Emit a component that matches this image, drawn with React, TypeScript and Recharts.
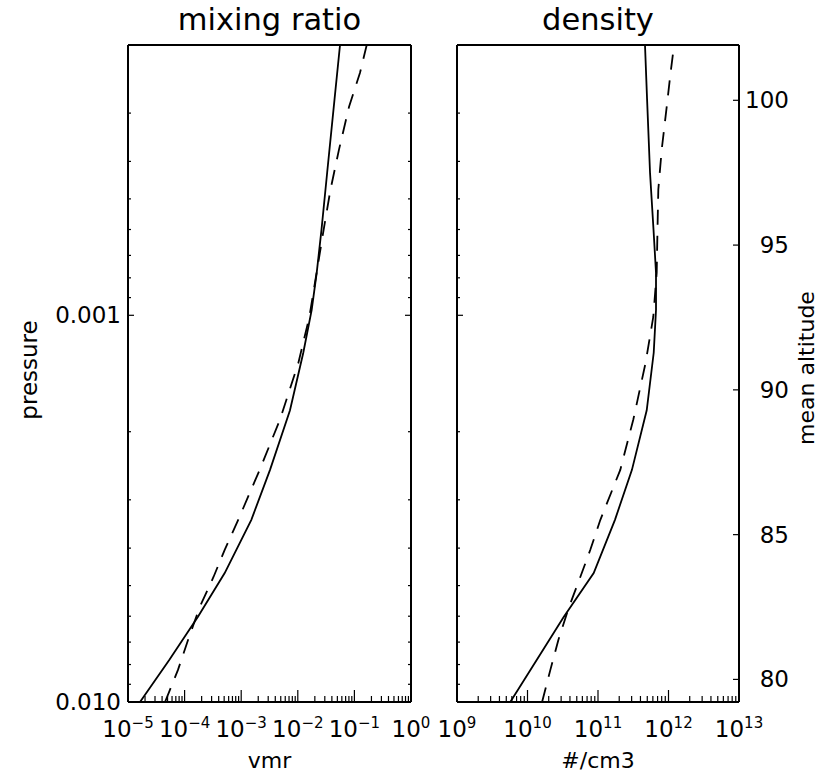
import { ScatterChart, Scatter, XAxis, YAxis } from 'recharts'

const FONT = '"DejaVu Sans", sans-serif'

// pressure levels of the two profiles (bottom to top)
const pressureSolid = [0.01, 0.00779, 0.00603, 0.00464, 0.00338, 0.00251, 0.00176, 0.00125, 0.000968, 0.000776, 0.000601, 0.000428, 0.000277, 0.0002]
const pressureDashed = [0.01, 0.00826, 0.00691, 0.00568, 0.00475, 0.00404, 0.00338, 0.00251, 0.00186, 0.00133, 0.00101, 0.000776, 0.000601, 0.000473, 0.000373, 0.000289, 0.000236, 0.0002]

// mixing ratio
const vmrSolid = [1.63e-5, 5.35e-5, 1.71e-4, 5.11e-4, 1.51e-3, 3.23e-3, 7.28e-3, 0.0125, 0.0176, 0.0216, 0.0262, 0.033, 0.0445, 0.0557]
const vmrDashed = [4.51e-5, 7.64e-5, 1.15e-4, 1.85e-4, 3.24e-4, 5.11e-4, 8.85e-4, 2.12e-3, 4.85e-3, 0.0102, 0.016, 0.0215, 0.0286, 0.0378, 0.0534, 0.0804, 0.1256, 0.165]

// number density
const densSolid = [5.7e9, 1.35e10, 3.26e10, 8.69e10, 1.74e11, 3.03e11, 4.91e11, 6.17e11, 6.65e11, 6.65e11, 6.13e11, 5.47e11, 4.97e11, 4.64e11]
const densDashed = [1.61e10, 2.11e10, 2.74e10, 3.88e10, 5.61e10, 7.78e10, 1.08e11, 2.07e11, 3.17e11, 4.72e11, 6.08e11, 6.8e11, 6.98e11, 7.17e11, 8.01e11, 9.43e11, 1.07e12, 1.2e12]

// axes
const vmrMajor = [1e-5, 1e-4, 1e-3, 1e-2, 1e-1, 1]
const densMajor = [1e9, 1e10, 1e11, 1e12, 1e13]
const pressureMajor = [0.001, 0.01]
const pressureDomain = [0.0002, 0.01]
const altitudeTicks = [80, 85, 90, 95, 100]
const altitudeDomain = [79.22, 101.91]

const withMinors = (majors: number[], from: number, to: number) => {
    const out: number[] = []
    majors.forEach((m, i) => {
        out.push(m)
        if (i < majors.length - 1) {
            for (let k = 2; k <= 9; k++) out.push(m * k)
        }
    })
    // minors below the first major (pressure axis starts at 2e-4)
    const first = majors[0] / 10
    for (let k = 2; k <= 9; k++) if (first * k >= from && first * k <= to) out.push(first * k)
    return out.sort((a, b) => a - b)
}

const vmrTicks = withMinors(vmrMajor, 1e-5, 1)
const densTicks = withMinors(densMajor, 1e9, 1e13)
const pressureTicks = withMinors(pressureMajor, 0.0002, 0.01)

const pts = (xs: number[], ps: number[]) => ps.map((p, i) => ({ x: xs[i], p }))

const expLabel = (v: number) => {
    const e = Math.round(Math.log10(v))
    return e < 0 ? `\u2212${-e}` : `${e}`
}

const makeXTick = (majors: number[], side: 'bottom' | 'top', labels: boolean) => (props: any) => {
    const { x, y, payload } = props
    const major = majors.includes(payload.value)
    const len = major ? 12 : 6
    const dir = side === 'bottom' ? -1 : 1
    return (
        <g>
            <line x1={x} y1={y} x2={x} y2={y + dir * len} stroke="#000" strokeWidth={1.2} />
            {labels && major && (
                <text x={x} y={y + 35} textAnchor="middle" fontFamily={FONT} fontSize={23} fill="#000">
                    <tspan>10</tspan>
                    <tspan dy={-9} fontSize={15}>{expLabel(payload.value)}</tspan>
                </text>
            )}
        </g>
    )
}

const makeYTick = (majors: number[], side: 'left' | 'right', labels: boolean, fmt?: (v: number) => string) => (props: any) => {
    const { x, y, payload } = props
    const major = majors.includes(payload.value)
    const len = major ? 6 : 3
    const dir = side === 'left' ? 1 : -1
    return (
        <g>
            <line x1={x} y1={y} x2={x + dir * len} y2={y} stroke="#000" strokeWidth={1.2} />
            {labels && major && (
                <text
                    x={side === 'left' ? x - 7 : x + 50}
                    y={y + 8}
                    textAnchor="end"
                    fontFamily={FONT}
                    fontSize={23}
                    fill="#000"
                >
                    {fmt ? fmt(payload.value) : payload.value}
                </text>
            )}
        </g>
    )
}

const frame = { stroke: '#000', strokeWidth: 2 }
const solidLine = { stroke: '#000', strokeWidth: 1.8 }
const dashedLine = { stroke: '#000', strokeWidth: 1.8, strokeDasharray: '15 11' }
const noDot = () => <g />

// axis size 1 px so the axes are drawn; margins reduced by that pixel
export default function App() {
    return (
        <div style={{ position: 'absolute', left: 0, top: 0, width: 819, height: 777, background: '#fff' }}>
            {/* mixing ratio panel */}
            <div style={{ position: 'absolute', left: 0, top: 0 }}>
                <ScatterChart width={440} height={777} margin={{ top: 44, right: 28, bottom: 74, left: 127 }}>
                    <XAxis xAxisId="b" dataKey="x" type="number" scale="log" domain={[1e-5, 1]} allowDataOverflow
                        ticks={vmrTicks} interval={0} height={1} tickSize={0} tickMargin={0} tickLine={false}
                        axisLine={frame} tick={makeXTick(vmrMajor, 'bottom', true)} />
                    <XAxis xAxisId="t" orientation="top" type="number" scale="log" domain={[1e-5, 1]} allowDataOverflow
                        ticks={vmrTicks} interval={0} height={1} tickSize={0} tickMargin={0} tickLine={false}
                        axisLine={frame} tick={makeXTick(vmrMajor, 'top', false)} />
                    <YAxis yAxisId="l" dataKey="p" type="number" scale="log" domain={pressureDomain} allowDataOverflow reversed
                        ticks={pressureTicks} interval={0} width={1} tickSize={0} tickMargin={0} tickLine={false}
                        axisLine={frame} tick={makeYTick(pressureMajor, 'left', true, (v) => v.toFixed(3))} />
                    <YAxis yAxisId="r" orientation="right" type="number" scale="log" domain={pressureDomain} allowDataOverflow reversed
                        ticks={pressureTicks} interval={0} width={1} tickSize={0} tickMargin={0} tickLine={false}
                        axisLine={frame} tick={makeYTick(pressureMajor, 'right', false)} />
                    <Scatter xAxisId="b" yAxisId="l" data={pts(vmrSolid, pressureSolid)} line={solidLine}
                        shape={noDot} isAnimationActive={false} />
                    <Scatter xAxisId="b" yAxisId="l" data={pts(vmrDashed, pressureDashed)} line={dashedLine}
                        shape={noDot} isAnimationActive={false} />
                </ScatterChart>
            </div>

            {/* density panel */}
            <div style={{ position: 'absolute', left: 420, top: 0 }}>
                <ScatterChart width={399} height={777} margin={{ top: 44, right: 79, bottom: 74, left: 36 }}>
                    <XAxis xAxisId="b" dataKey="x" type="number" scale="log" domain={[1e9, 1e13]} allowDataOverflow
                        ticks={densTicks} interval={0} height={1} tickSize={0} tickMargin={0} tickLine={false}
                        axisLine={frame} tick={makeXTick(densMajor, 'bottom', true)} />
                    <XAxis xAxisId="t" orientation="top" type="number" scale="log" domain={[1e9, 1e13]} allowDataOverflow
                        ticks={densTicks} interval={0} height={1} tickSize={0} tickMargin={0} tickLine={false}
                        axisLine={frame} tick={makeXTick(densMajor, 'top', false)} />
                    <YAxis yAxisId="l" dataKey="p" type="number" scale="log" domain={pressureDomain} allowDataOverflow reversed
                        ticks={pressureTicks} interval={0} width={1} tickSize={0} tickMargin={0} tickLine={false}
                        axisLine={frame} tick={makeYTick(pressureMajor, 'left', false)} />
                    <YAxis yAxisId="alt" orientation="right" type="number" domain={altitudeDomain} allowDataOverflow
                        ticks={altitudeTicks} interval={0} width={1} tickSize={0} tickMargin={0} tickLine={false}
                        axisLine={frame} tick={makeYTick(altitudeTicks, 'right', true)} />
                    <Scatter xAxisId="b" yAxisId="l" data={pts(densSolid, pressureSolid)} line={solidLine}
                        shape={noDot} isAnimationActive={false} />
                    <Scatter xAxisId="b" yAxisId="l" data={pts(densDashed, pressureDashed)} line={dashedLine}
                        shape={noDot} isAnimationActive={false} />
                </ScatterChart>
            </div>

            {/* titles and axis names */}
            <svg width={819} height={777} style={{ position: 'absolute', left: 0, top: 0, pointerEvents: 'none' }}>
                <g fontFamily={FONT} fill="#000">
                    <text x={269.5} y={30} textAnchor="middle" fontSize={30.5}>mixing ratio</text>
                    <text x={598} y={30} textAnchor="middle" fontSize={30.5}>density</text>
                    <text x={269.5} y={768} textAnchor="middle" fontSize={22}>vmr</text>
                    <text x={598} y={768} textAnchor="middle" fontSize={22}>#/cm3</text>
                    <text transform="translate(37,370) rotate(-90)" textAnchor="middle" fontSize={23}>pressure</text>
                    <text transform="translate(814,368) rotate(-90)" textAnchor="middle" fontSize={22}>mean altitude</text>
                </g>
            </svg>
        </div>
    )
}
